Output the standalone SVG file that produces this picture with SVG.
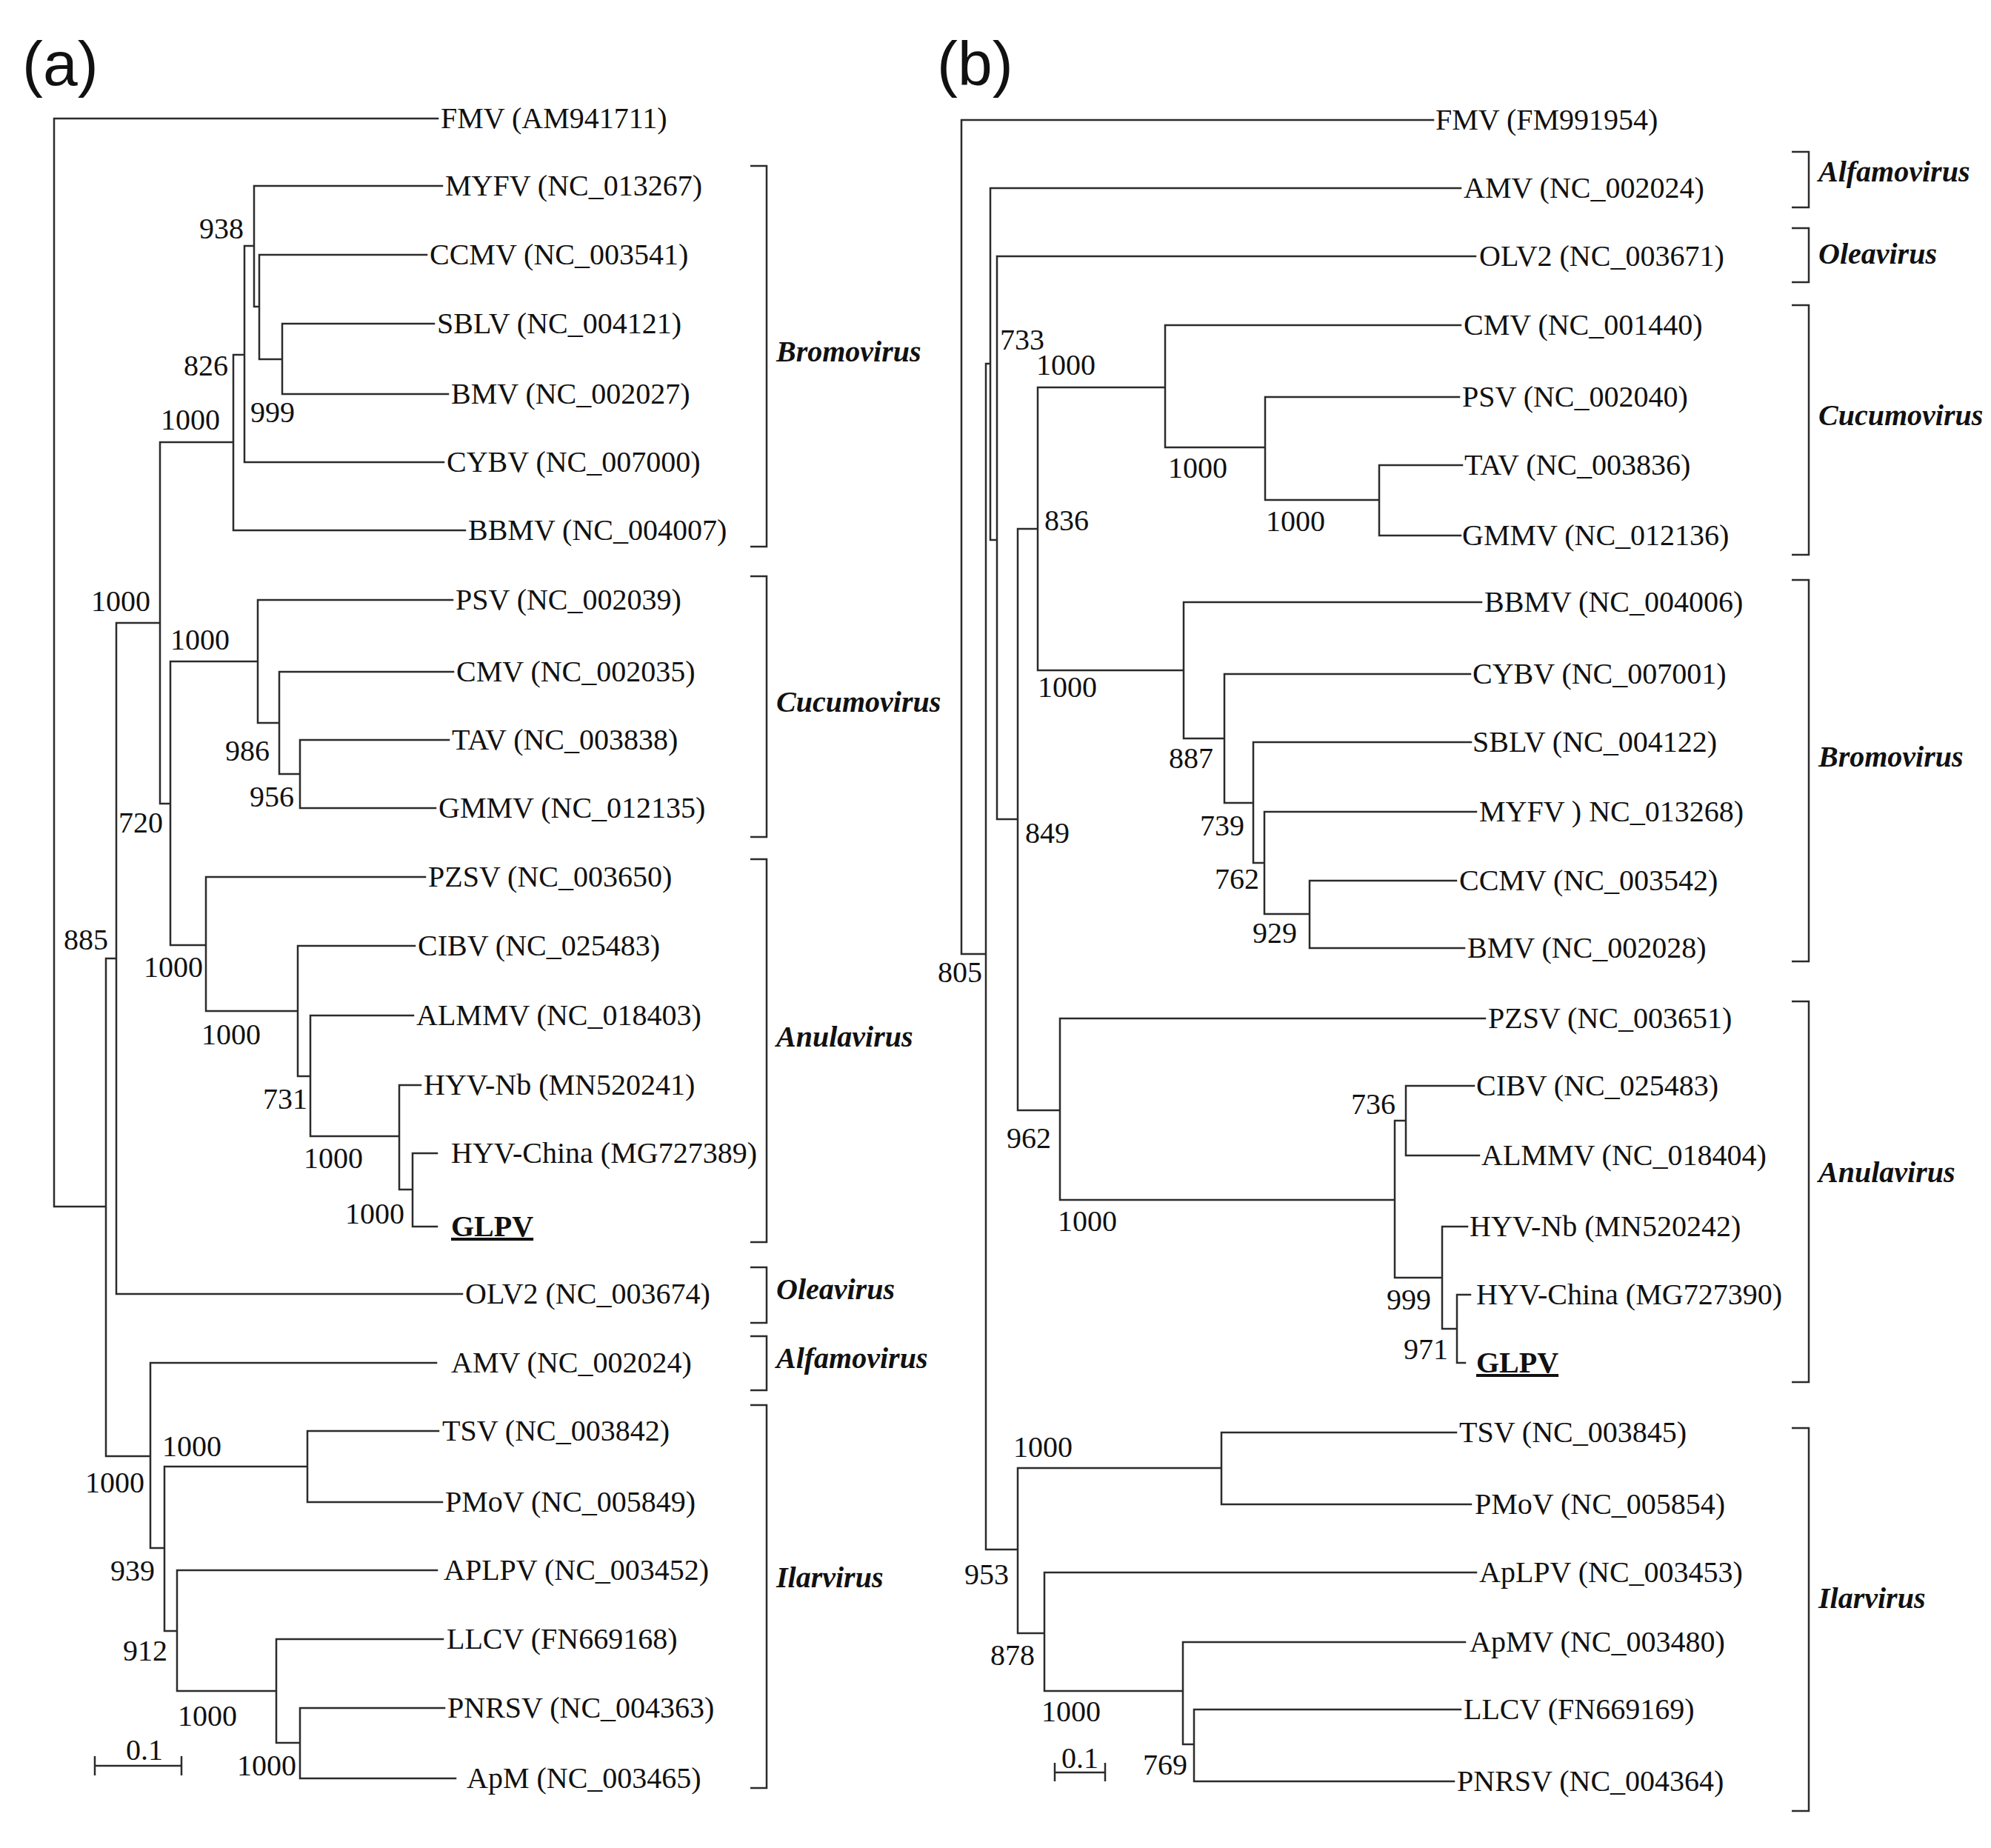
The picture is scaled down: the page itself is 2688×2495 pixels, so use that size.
<svg xmlns="http://www.w3.org/2000/svg" width="2688" height="2495" viewBox="0 0 2688 2495">
<style>
.br{stroke:#2b2b2b;stroke-width:2.5;fill:none;stroke-linecap:square}
.bk{stroke:#2b2b2b;stroke-width:2.5;fill:none}
.lf{font-family:"Liberation Serif","Times New Roman",serif;font-size:40px;fill:#111}
.bs{font-family:"Liberation Serif","Times New Roman",serif;font-size:40px;fill:#111}
.gn{font-family:"Liberation Serif","Times New Roman",serif;font-size:40px;font-weight:bold;font-style:italic;fill:#111}
.pl{font-family:"Liberation Sans",Arial,sans-serif;font-size:84px;fill:#111}
.gl{font-weight:bold;text-decoration:underline}
</style>
<rect width="2688" height="2495" fill="#fff"/>
<g id="panel-labels">
<text class="pl" x="30" y="115">(a)</text>
<text class="pl" x="1265" y="115">(b)</text>
</g>
<g id="connectors">
<path class="br" d="M73 160V1629M73 160H591M73 1629H143
M143 1294V1966M143 1294H157M143 1966H203
M157 841V1747M157 841H216M157 1747H624
M216 597V1085M216 597H315M216 1085H230
M315 479V716M315 479H330M315 716H628
M330 332V624M330 332H343M330 624H599
M343 251V414M343 251H597M343 414H350
M350 344V485M350 344H576M350 485H381
M381 437V532M381 437H586M381 532H605
M230 893V1276M230 893H348M230 1276H278
M348 810V976M348 810H611M348 976H377
M377 907V1045M377 907H612M377 1045H405
M405 999V1091M405 999H606M405 1091H588
M278 1184V1365M278 1184H574M278 1365H402
M402 1277V1453M402 1277H560M402 1453H419
M419 1371V1534M419 1371H558M419 1534H539
M539 1465V1606M539 1465H568M539 1606H557
M557 1557V1656M557 1557H590M557 1656H590
M203 1840V2090M203 1840H589M203 2090H222
M222 1980V2202M222 1980H415M222 2202H239
M415 1932V2028M415 1932H592M415 2028H597
M239 2120V2283M239 2120H590M239 2283H373
M373 2213V2353M373 2213H598M373 2353H405
M405 2306V2401M405 2306H600M405 2401H615"/>
<path class="br" d="M1298 162V1288M1298 162H1935M1298 1288H1331
M1331 491V2092M1331 491H1337M1331 2092H1374
M1337 254V729M1337 254H1972M1337 729H1346
M1346 346V1106M1346 346H1992M1346 1106H1374
M1374 714V1499M1374 714H1401M1374 1499H1431
M1401 523V905M1401 523H1573M1401 905H1598
M1573 439V604M1573 439H1972M1573 604H1708
M1708 536V675M1708 536H1970M1708 675H1862
M1862 628V723M1862 628H1974M1862 723H1972
M1598 813V997M1598 813H2000M1598 997H1653
M1653 910V1084M1653 910H1985M1653 1084H1692
M1692 1002V1165M1692 1002H1986M1692 1165H1707
M1707 1096V1234M1707 1096H1993M1707 1234H1768
M1768 1189V1280M1768 1189H1966M1768 1280H1977
M1431 1375V1620M1431 1375H2005M1431 1620H1883
M1883 1513V1725M1883 1513H1898M1883 1725H1947
M1898 1466V1560M1898 1466H1990M1898 1560H1997
M1947 1656V1794M1947 1656H1981M1947 1794H1967
M1967 1748V1840M1967 1748H1985M1967 1840H1978
M1374 1982V2205M1374 1982H1649M1374 2205H1410
M1649 1934V2031M1649 1934H1966M1649 2031H1986
M1410 2123V2283M1410 2123H1993M1410 2283H1597
M1597 2217V2355M1597 2217H1978M1597 2355H1612
M1612 2308V2405M1612 2308H1972M1612 2405H1963"/>
</g>
<g id="scale-a">
<path class="bk" d="M128 2384H245M128 2371V2397M245 2371V2397"/>
<text class="bs" x="170" y="2376">0.1</text>
</g>
<g id="scale-b">
<path class="bk" d="M1424 2393H1492M1424 2380V2405M1492 2380V2405"/>
<text class="bs" x="1433" y="2387">0.1</text>
</g>
<g id="leaves-a">
<g id="a-FMV"><text class="lf" x="595" y="173">FMV (AM941711)</text></g>
<g id="a-MYFV"><text class="lf" x="601" y="264">MYFV (NC_013267)</text></g>
<g id="a-CCMV"><text class="lf" x="580" y="357">CCMV (NC_003541)</text></g>
<g id="a-SBLV"><text class="lf" x="590" y="450">SBLV (NC_004121)</text></g>
<g id="a-BMV"><text class="lf" x="609" y="545">BMV (NC_002027)</text></g>
<g id="a-CYBV"><text class="lf" x="603" y="637">CYBV (NC_007000)</text></g>
<g id="a-BBMV"><text class="lf" x="632" y="729">BBMV (NC_004007)</text></g>
<g id="a-PSV"><text class="lf" x="615" y="823">PSV (NC_002039)</text></g>
<g id="a-CMV"><text class="lf" x="616" y="920">CMV (NC_002035)</text></g>
<g id="a-TAV"><text class="lf" x="610" y="1012">TAV (NC_003838)</text></g>
<g id="a-GMMV"><text class="lf" x="592" y="1104">GMMV (NC_012135)</text></g>
<g id="a-PZSV"><text class="lf" x="578" y="1197">PZSV (NC_003650)</text></g>
<g id="a-CIBV"><text class="lf" x="564" y="1290">CIBV (NC_025483)</text></g>
<g id="a-ALMMV"><text class="lf" x="562" y="1384">ALMMV (NC_018403)</text></g>
<g id="a-HYVNb"><text class="lf" x="572" y="1478">HYV-Nb (MN520241)</text></g>
<g id="a-HYVChina"><text class="lf" x="609" y="1570">HYV-China (MG727389)</text></g>
<g id="a-GLPV"><text class="lf gl" x="609" y="1669">GLPV</text></g>
<g id="a-OLV2"><text class="lf" x="628" y="1760">OLV2 (NC_003674)</text></g>
<g id="a-AMV"><text class="lf" x="609" y="1853">AMV (NC_002024)</text></g>
<g id="a-TSV"><text class="lf" x="597" y="1945">TSV (NC_003842)</text></g>
<g id="a-PMoV"><text class="lf" x="601" y="2041">PMoV (NC_005849)</text></g>
<g id="a-APLPV"><text class="lf" x="599" y="2133">APLPV (NC_003452)</text></g>
<g id="a-LLCV"><text class="lf" x="603" y="2226">LLCV (FN669168)</text></g>
<g id="a-PNRSV"><text class="lf" x="604" y="2319">PNRSV (NC_004363)</text></g>
<g id="a-ApM"><text class="lf" x="630" y="2414">ApM (NC_003465)</text></g>
</g>
<g id="leaves-b">
<g id="b-FMV"><text class="lf" x="1938" y="175">FMV (FM991954)</text></g>
<g id="b-AMV"><text class="lf" x="1976" y="267">AMV (NC_002024)</text></g>
<g id="b-OLV2"><text class="lf" x="1997" y="359">OLV2 (NC_003671)</text></g>
<g id="b-CMV"><text class="lf" x="1976" y="452">CMV (NC_001440)</text></g>
<g id="b-PSV"><text class="lf" x="1974" y="549">PSV (NC_002040)</text></g>
<g id="b-TAV"><text class="lf" x="1977" y="641">TAV (NC_003836)</text></g>
<g id="b-GMMV"><text class="lf" x="1974" y="736">GMMV (NC_012136)</text></g>
<g id="b-BBMV"><text class="lf" x="2004" y="826">BBMV (NC_004006)</text></g>
<g id="b-CYBV"><text class="lf" x="1988" y="923">CYBV (NC_007001)</text></g>
<g id="b-SBLV"><text class="lf" x="1988" y="1015">SBLV (NC_004122)</text></g>
<g id="b-MYFV"><text class="lf" x="1997" y="1109">MYFV ) NC_013268)</text></g>
<g id="b-CCMV"><text class="lf" x="1970" y="1202">CCMV (NC_003542)</text></g>
<g id="b-BMV"><text class="lf" x="1981" y="1293">BMV (NC_002028)</text></g>
<g id="b-PZSV"><text class="lf" x="2009" y="1388">PZSV (NC_003651)</text></g>
<g id="b-CIBV"><text class="lf" x="1993" y="1479">CIBV (NC_025483)</text></g>
<g id="b-ALMMV"><text class="lf" x="2000" y="1573">ALMMV (NC_018404)</text></g>
<g id="b-HYVNb"><text class="lf" x="1984" y="1669">HYV-Nb (MN520242)</text></g>
<g id="b-HYVChina"><text class="lf" x="1993" y="1761">HYV-China (MG727390)</text></g>
<g id="b-GLPV"><text class="lf gl" x="1993" y="1853">GLPV</text></g>
<g id="b-TSV"><text class="lf" x="1970" y="1947">TSV (NC_003845)</text></g>
<g id="b-PMoV"><text class="lf" x="1991" y="2044">PMoV (NC_005854)</text></g>
<g id="b-ApLPV"><text class="lf" x="1997" y="2136">ApLPV (NC_003453)</text></g>
<g id="b-ApMV"><text class="lf" x="1984" y="2230">ApMV (NC_003480)</text></g>
<g id="b-LLCV"><text class="lf" x="1976" y="2321">LLCV (FN669169)</text></g>
<g id="b-PNRSV"><text class="lf" x="1967" y="2418">PNRSV (NC_004364)</text></g>
</g>
<g id="bootstrap-a">
<g id="a-n938"><text class="bs" x="269" y="322">938</text></g>
<g id="a-n826"><text class="bs" x="248" y="507">826</text></g>
<g id="a-n1000bromo"><text class="bs" x="217" y="580">1000</text></g>
<g id="a-n999"><text class="bs" x="338" y="570">999</text></g>
<g id="a-n1000a"><text class="bs" x="123" y="825">1000</text></g>
<g id="a-n1000cucumo"><text class="bs" x="230" y="877">1000</text></g>
<g id="a-n986"><text class="bs" x="304" y="1027">986</text></g>
<g id="a-n956"><text class="bs" x="337" y="1089">956</text></g>
<g id="a-n720"><text class="bs" x="160" y="1124">720</text></g>
<g id="a-n885"><text class="bs" x="86" y="1282">885</text></g>
<g id="a-n1000anula"><text class="bs" x="194" y="1319">1000</text></g>
<g id="a-n1000b"><text class="bs" x="272" y="1410">1000</text></g>
<g id="a-n731"><text class="bs" x="355" y="1497">731</text></g>
<g id="a-n1000c"><text class="bs" x="410" y="1577">1000</text></g>
<g id="a-n1000d"><text class="bs" x="466" y="1652">1000</text></g>
<g id="a-n1000tsv"><text class="bs" x="219" y="1966">1000</text></g>
<g id="a-n1000ilar"><text class="bs" x="115" y="2015">1000</text></g>
<g id="a-n939"><text class="bs" x="149" y="2134">939</text></g>
<g id="a-n912"><text class="bs" x="166" y="2242">912</text></g>
<g id="a-n1000llcv"><text class="bs" x="240" y="2330">1000</text></g>
<g id="a-n1000pnrsv"><text class="bs" x="320" y="2397">1000</text></g>
</g>
<g id="bootstrap-b">
<g id="b-n733"><text class="bs" x="1350" y="472">733</text></g>
<g id="b-n1000cucumo"><text class="bs" x="1399" y="506">1000</text></g>
<g id="b-n1000psv"><text class="bs" x="1577" y="645">1000</text></g>
<g id="b-n1000tav"><text class="bs" x="1709" y="717">1000</text></g>
<g id="b-n836"><text class="bs" x="1410" y="716">836</text></g>
<g id="b-n1000bromo"><text class="bs" x="1401" y="941">1000</text></g>
<g id="b-n887"><text class="bs" x="1578" y="1037">887</text></g>
<g id="b-n739"><text class="bs" x="1620" y="1128">739</text></g>
<g id="b-n849"><text class="bs" x="1384" y="1138">849</text></g>
<g id="b-n762"><text class="bs" x="1640" y="1200">762</text></g>
<g id="b-n929"><text class="bs" x="1691" y="1273">929</text></g>
<g id="b-n805"><text class="bs" x="1266" y="1326">805</text></g>
<g id="b-n736"><text class="bs" x="1824" y="1504">736</text></g>
<g id="b-n962"><text class="bs" x="1359" y="1550">962</text></g>
<g id="b-n1000anula"><text class="bs" x="1428" y="1662">1000</text></g>
<g id="b-n999"><text class="bs" x="1872" y="1768">999</text></g>
<g id="b-n971"><text class="bs" x="1895" y="1835">971</text></g>
<g id="b-n1000tsv"><text class="bs" x="1368" y="1967">1000</text></g>
<g id="b-n953"><text class="bs" x="1302" y="2139">953</text></g>
<g id="b-n878"><text class="bs" x="1337" y="2248">878</text></g>
<g id="b-n1000apmv"><text class="bs" x="1406" y="2324">1000</text></g>
<g id="b-n769"><text class="bs" x="1543" y="2396">769</text></g>
</g>
<g id="genera-a">
<g id="a-Bromovirus"><path class="bk" d="M1013 224H1035V738H1013"/><text class="gn" x="1048" y="488">Bromovirus</text></g>
<g id="a-Cucumovirus"><path class="bk" d="M1013 778H1035V1130H1013"/><text class="gn" x="1048" y="961">Cucumovirus</text></g>
<g id="a-Anulavirus"><path class="bk" d="M1013 1160H1035V1677H1013"/><text class="gn" x="1048" y="1413">Anulavirus</text></g>
<g id="a-Oleavirus"><path class="bk" d="M1013 1711H1035V1786H1013"/><text class="gn" x="1048" y="1754">Oleavirus</text></g>
<g id="a-Alfamovirus"><path class="bk" d="M1013 1804H1035V1877H1013"/><text class="gn" x="1048" y="1847">Alfamovirus</text></g>
<g id="a-Ilarvirus"><path class="bk" d="M1013 1897H1035V2414H1013"/><text class="gn" x="1048" y="2143">Ilarvirus</text></g>
</g>
<g id="genera-b">
<g id="b-Alfamovirus"><path class="bk" d="M2419 205H2442V280H2419"/><text class="gn" x="2455" y="245">Alfamovirus</text></g>
<g id="b-Oleavirus"><path class="bk" d="M2419 308H2442V381H2419"/><text class="gn" x="2455" y="356">Oleavirus</text></g>
<g id="b-Cucumovirus"><path class="bk" d="M2419 412H2442V749H2419"/><text class="gn" x="2455" y="574">Cucumovirus</text></g>
<g id="b-Bromovirus"><path class="bk" d="M2419 783H2442V1298H2419"/><text class="gn" x="2455" y="1035">Bromovirus</text></g>
<g id="b-Anulavirus"><path class="bk" d="M2419 1352H2442V1866H2419"/><text class="gn" x="2455" y="1596">Anulavirus</text></g>
<g id="b-Ilarvirus"><path class="bk" d="M2419 1928H2442V2445H2419"/><text class="gn" x="2455" y="2171">Ilarvirus</text></g>
</g>
</svg>
